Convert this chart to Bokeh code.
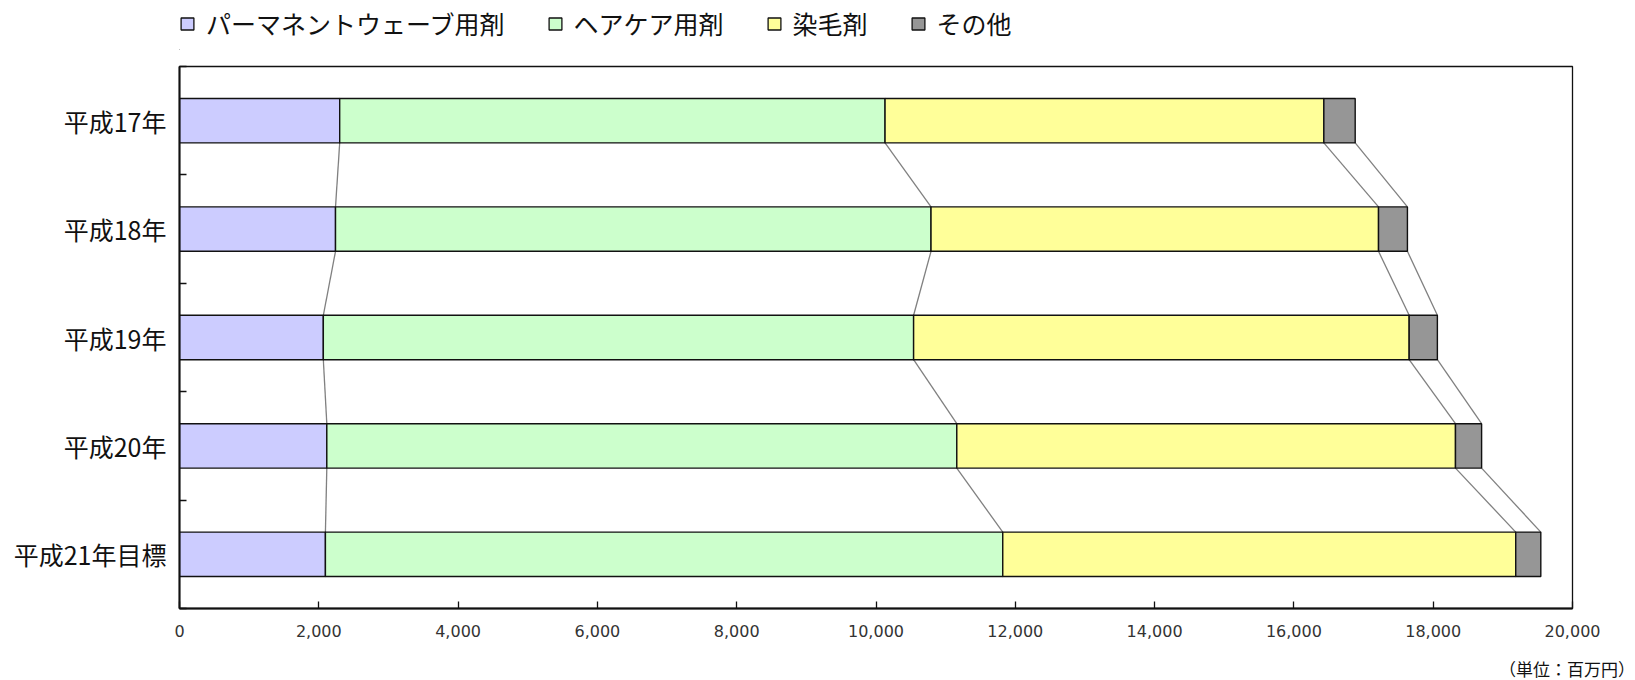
import numpy as np
from bokeh.plotting import figure
from bokeh.layouts import column
from bokeh.models import (Range1d, FixedTicker, NumeralTickFormatter, Legend,
                          LegendItem, Div, InlineStyleSheet, ColumnDataSource)
from bokeh.embed import file_html
from bokeh.resources import INLINE

# ---- data ----
categories = ["平成17年", "平成18年", "平成19年", "平成20年", "平成21年目標"]
series_names = ["パーマネントウェーブ用剤", "ヘアケア用剤", "染毛剤", "その他"]
perm = [2300, 2240, 2065, 2115, 2095]
haircare = [7830, 8550, 8475, 9045, 9725]
dye = [6300, 6425, 7115, 7160, 7365]
other = [450, 415, 405, 375, 360]
x_ticks = [0, 2000, 4000, 6000, 8000, 10000, 12000, 14000, 16000, 18000, 20000]
unit_label = "（単位：百万円）"

colors = ["#CCCCFF", "#CCFFCC", "#FFFF99", "#969696"]
FONT = "Noto Sans CJK JP"
BAR_H = 0.41
W = 1630
LB, FW = 179, 1393
RB = W - LB - FW

n = len(categories)
ypos = [n - 0.5 - i for i in range(n)]
bounds = list(range(0, n + 1))

source = ColumnDataSource(dict(y=ypos, cat=categories,
                               s0=perm, s1=haircare, s2=dye, s3=other))

# ---------- legend strip ----------
pl = figure(width=W, height=50, x_axis_type=None, y_axis_type=None,
            x_range=Range1d(0, 1), y_range=Range1d(0, 1),
            min_border_left=169, min_border_right=RB,
            min_border_top=0, min_border_bottom=0,
            output_backend="svg", toolbar_location=None)
pl.outline_line_color = None
# legend proxies, placed outside the visible ranges
proxies = [pl.hbar(y=[-10], left=[-10], right=[-9], height=1, fill_color=c,
                   line_color="#111111", line_width=1.3) for c in colors]
legend = Legend(items=[LegendItem(label=nm, renderers=[r]) for nm, r in zip(series_names, proxies)],
                orientation="horizontal", location=(0, 9),
                border_line_color=None, background_fill_alpha=0,
                padding=0, margin=0, spacing=42,
                glyph_width=16, glyph_height=15, label_standoff=11,
                label_text_font=FONT, label_text_font_size="25px",
                label_text_color="#111111")
pl.add_layout(legend)

# ---------- main chart ----------
p = figure(frame_width=FW, frame_height=542,
           min_border_left=LB, min_border_right=RB,
           min_border_top=16, min_border_bottom=40,
           x_range=Range1d(0, 20000), y_range=Range1d(0, n),
           output_backend="svg", toolbar_location=None)

stack = np.cumsum(np.array([perm, haircare, dye, other], dtype=float), axis=0)
x0, y0, x1, y1 = [], [], [], []
for k in range(stack.shape[0]):
    for i in range(n - 1):
        x0.append(stack[k, i]); y0.append(ypos[i] - BAR_H / 2)
        x1.append(stack[k, i + 1]); y1.append(ypos[i + 1] + BAR_H / 2)
p.segment(x0=x0, y0=y0, x1=x1, y1=y1, line_color="#808080", line_width=1.3)

rends = p.hbar_stack(["s0", "s1", "s2", "s3"], y="y", height=BAR_H,
                     fill_color=colors, line_color="#111111", line_width=1.4,
                     source=source)

p.xgrid.visible = False
p.ygrid.visible = False
p.outline_line_color = "#111111"
p.outline_line_width = 1.3

xa = p.xaxis[0]
xa.ticker = FixedTicker(ticks=x_ticks)
xa.formatter = NumeralTickFormatter(format="0,0")
xa.major_tick_in = 7
xa.major_tick_out = 0
xa.minor_tick_line_color = None
xa.minor_tick_out = 0
xa.axis_line_width = 2
xa.axis_line_color = "#111111"
xa.major_tick_line_color = "#111111"
xa.major_tick_line_width = 1.3
xa.major_label_text_font = "DejaVu Sans"
xa.major_label_text_font_size = "16px"
xa.major_label_text_color = "#333333"
xa.major_label_standoff = 16

ya = p.yaxis[0]
ya.ticker = FixedTicker(ticks=ypos, minor_ticks=bounds)
ya.major_label_overrides = {y: c for y, c in zip(ypos, categories)}
ya.major_tick_line_color = None
ya.major_tick_in = 0
ya.major_tick_out = 0
ya.minor_tick_in = 7
ya.minor_tick_out = 0
ya.minor_tick_line_color = "#111111"
ya.minor_tick_line_width = 1.5
ya.axis_line_width = 2
ya.axis_line_color = "#111111"
ya.major_label_text_font = FONT
ya.major_label_text_font_size = "25px"
ya.major_label_text_color = "#111111"
ya.major_label_standoff = 13

# ---------- unit note ----------
unit_css = InlineStyleSheet(css=(
    "* { font-family: 'Noto Sans CJK JP' !important; font-size: 17px !important; "
    "line-height: 22px !important; color: #111111 !important; }"))
unit = Div(text=unit_label, width=W, height=27,
           styles={"text-align": "right", "padding-top": "5px",
                   "box-sizing": "border-box", "font-size": "17px",
                   "font-family": FONT, "line-height": "22px"},
           stylesheets=[unit_css])

layout = column(pl, p, unit, spacing=0)
open("out.html", "w").write(file_html(layout, INLINE))
